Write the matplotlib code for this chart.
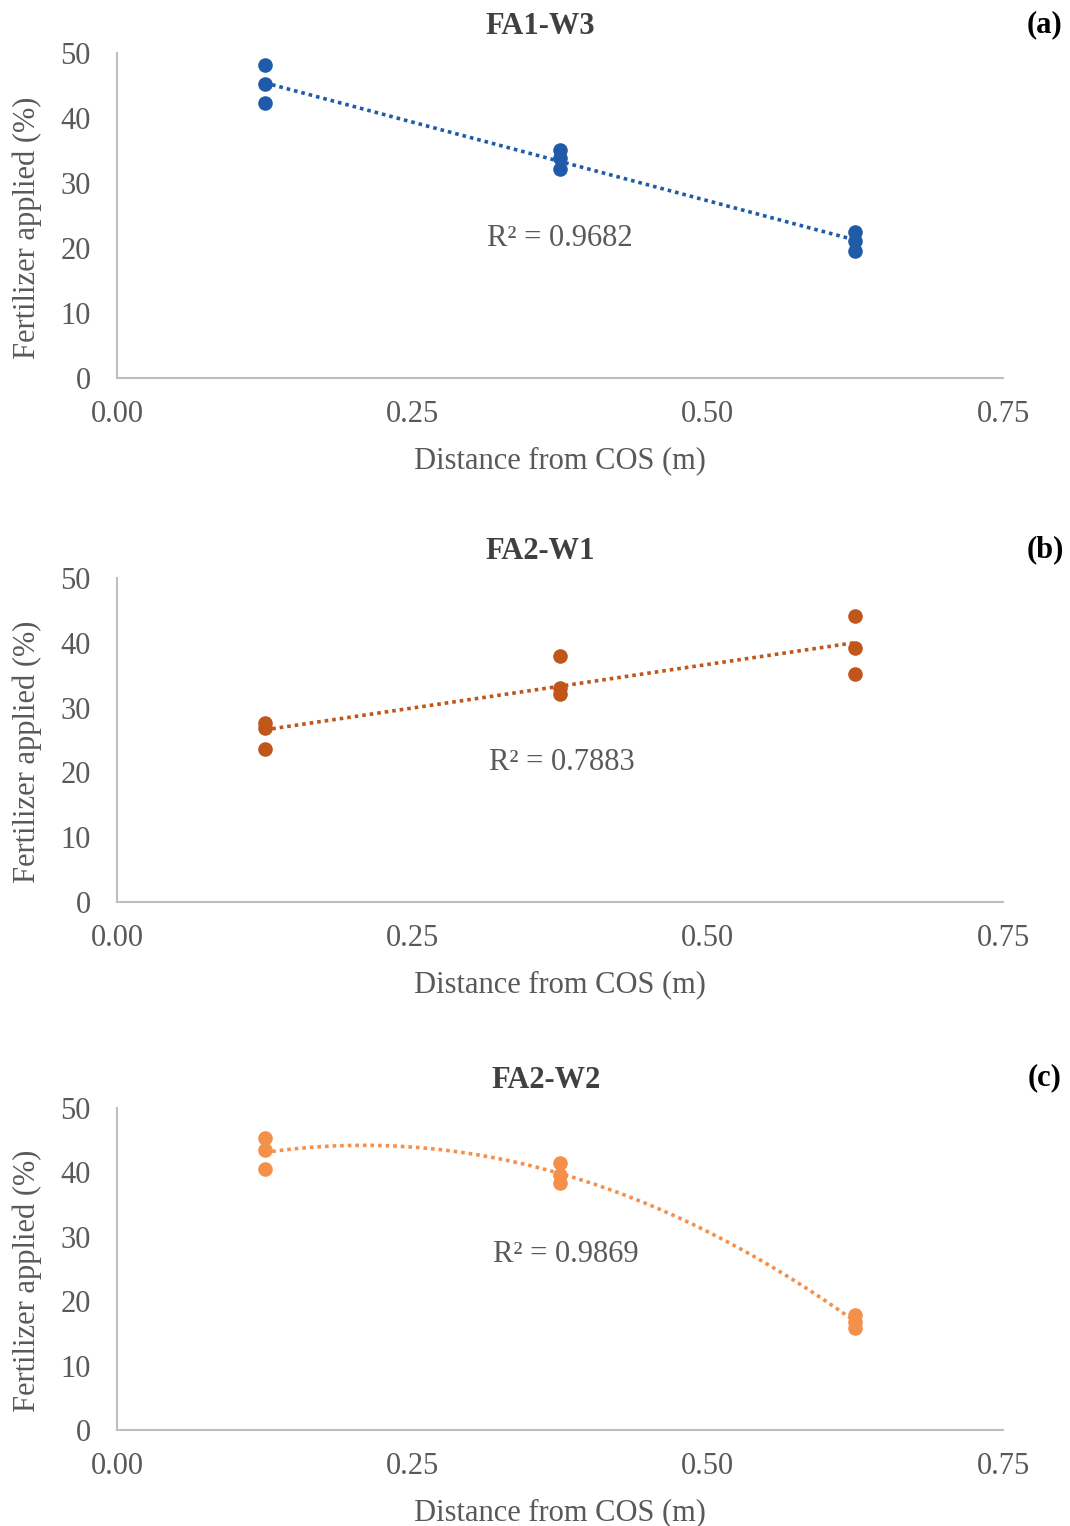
import numpy as np
import matplotlib
matplotlib.use("Agg")
import matplotlib.pyplot as plt

plt.rcParams['font.family'] = ['Liberation Serif', 'DejaVu Serif']

x_vals = [0.125, 0.125, 0.125, 0.375, 0.375, 0.375, 0.625, 0.625, 0.625]
y_a = [48.2, 45.2, 42.3, 35.1, 33.8, 32.2, 22.5, 21.1, 19.5]
y_b = [27.6, 26.9, 23.6, 38.0, 33.0, 32.1, 44.1, 39.2, 35.2]
y_c = [45.3, 43.5, 40.5, 41.5, 39.6, 38.4, 17.9, 16.8, 15.8]

titles = ["FA1-W3", "FA2-W1", "FA2-W2"]
tags = ["(a)", "(b)", "(c)"]
r2_texts = ["R\u00b2 = 0.9682", "R\u00b2 = 0.7883", "R\u00b2 = 0.9869"]
r2_pos = [(0.375, 21.5), (0.377, 21.6), (0.380, 27.3)]
colors = ["#1F5BA8", "#C0561A", "#F5904A"]
degrees = [1, 1, 2]
series = [y_a, y_b, y_c]

xticks = [0.00, 0.25, 0.50, 0.75]
xtick_labels = ["0.00", "0.25", "0.50", "0.75"]
yticks = [0, 10, 20, 30, 40, 50]

fig = plt.figure(figsize=(10.70, 15.26), dpi=100)
W, H = 1070, 1526
panels = [(53, 378), (578, 902), (1108, 1430)]
title_y = [27, 552, 1080]
title_x = [540, 540, 546]
tag_y = [25, 550, 1078]

gray = "#595959"
fs = 22
for i, (top, bot) in enumerate(panels):
    ax = fig.add_axes([117 / W, 1 - bot / H, 886 / W, (bot - top) / H])
    x = np.array(x_vals)
    y = np.array(series[i])
    coef = np.polyfit(x, y, degrees[i])
    xs = np.linspace(0.125, 0.625, 200)
    ax.plot(xs, np.polyval(coef, xs), linestyle=(0, (1, 1.1)), color=colors[i], lw=2.6, zorder=2)
    ax.plot(x, y, 'o', color=colors[i], markersize=10.5, markeredgewidth=0, zorder=3)
    ax.set_xlim(0, 0.75)
    ax.set_ylim(0, 50)
    ax.set_xticks(xticks)
    ax.set_xticklabels(xtick_labels)
    ax.set_yticks(yticks)
    ax.tick_params(length=0, labelsize=fs, labelcolor=gray)
    ax.tick_params(axis='x', pad=16)
    ax.tick_params(axis='y', pad=19)
    for s in ['top', 'right']:
        ax.spines[s].set_visible(False)
    for s in ['left', 'bottom']:
        ax.spines[s].set_color("#BFBFBF")
        ax.spines[s].set_linewidth(1.5)
    ax.set_xlabel("Distance from COS (m)", fontsize=fs, color=gray, labelpad=12)
    ax.set_ylabel("Fertilizer applied (%)", fontsize=fs, color=gray)
    ax.yaxis.set_label_coords(-0.085, 0.463)
    ax.text(r2_pos[i][0], r2_pos[i][1], r2_texts[i], fontsize=fs, color=gray,
            ha='center', va='center')
    fig.text(title_x[i] / W, 1 - title_y[i] / H, titles[i], fontsize=fs, fontweight='bold',
             color="#404040", ha='center', va='center')
    fig.text(1045 / W, 1 - tag_y[i] / H, tags[i], fontsize=fs, fontweight='bold',
             color="#000000", ha='center', va='center')

fig.savefig("out.png", dpi=100, facecolor='white')
